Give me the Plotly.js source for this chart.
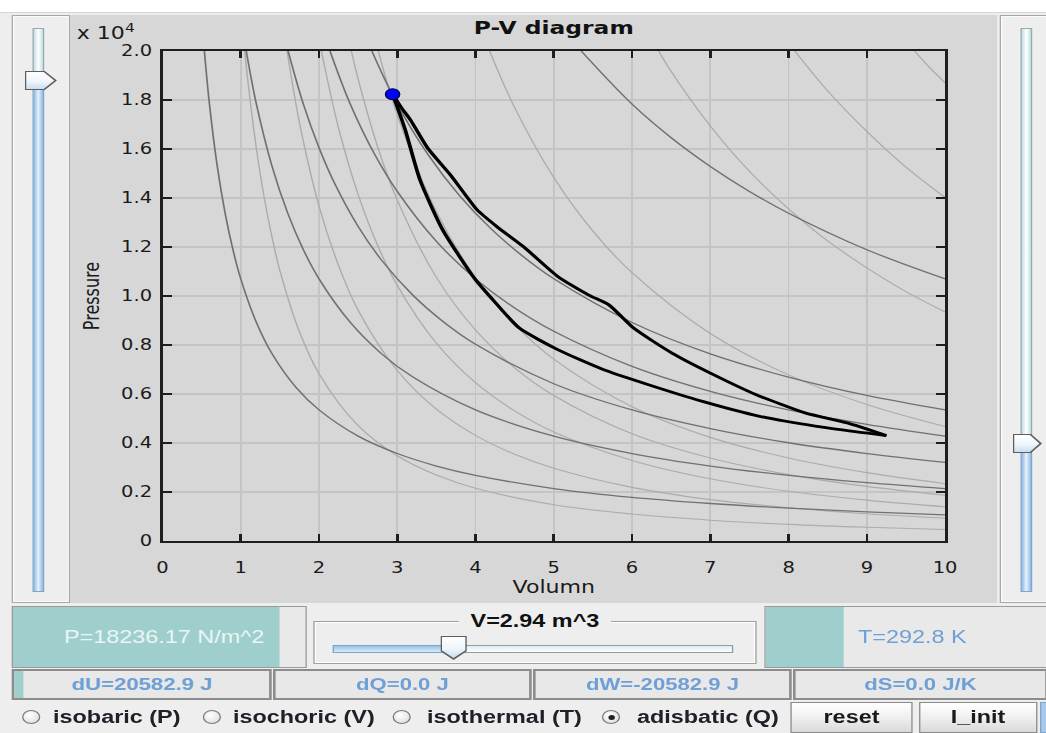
<!DOCTYPE html>
<html><head><meta charset="utf-8">
<script src="https://cdn.plot.ly/plotly-3.0.1.min.js"></script>
<style>
html,body{margin:0;padding:0;width:1046px;height:733px;overflow:hidden;background:#eeeeee;font-family:"Liberation Sans",Arial,sans-serif;}
#wrap{position:absolute;left:0;top:0;width:805px;height:733px;transform:scaleX(1.3);transform-origin:0 0;}
.abs{position:absolute;box-sizing:border-box;}
.panel{background:#eeeeee;border:1px solid #a8a8a8;box-shadow:inset 0 0 0 1px #fafafa;}
.trackUp{background:linear-gradient(to right,#bfe0e6,#ffffff 50%,#bfe0e6);border:1px solid #9aa8ae;}
.trackDn{background:linear-gradient(to right,#8fb8e2,#e6f2fb 50%,#8fb8e2);border:1px solid #7aa6cf;}
.thumbR{background:#5e5e5e;clip-path:polygon(0 0,62% 0,100% 50%,62% 100%,0 100%);}
.thumbR .in{position:absolute;left:1px;top:1px;right:2px;bottom:1px;background:linear-gradient(to bottom,#ffffff,#eef6fc 55%,#c8def1);clip-path:polygon(0 0,62% 0,100% 50%,62% 100%,0 100%);}
.thumbD{background:#5e5e5e;clip-path:polygon(0 0,100% 0,100% 62%,50% 100%,0 62%);}
.thumbD .in{position:absolute;left:1px;top:1px;right:1px;bottom:2px;background:linear-gradient(to bottom,#ffffff,#eef6fc 55%,#c8def1);clip-path:polygon(0 0,100% 0,100% 62%,50% 100%,0 62%);}
.val{color:#6e9fd6;font-size:17px;font-weight:bold;display:flex;align-items:center;justify-content:center;background:#e8e8e8;border:2px solid #8c8c8c;}
.radio{width:14px;height:14px;border-radius:50%;border:1px solid #7a7a7a;background:radial-gradient(circle at 40% 35%,#ffffff,#d8d8d8);}
.rlab{font-size:18px;font-weight:bold;color:#20202a;line-height:32px;white-space:nowrap;}
.btn{border:1px solid #8a8a8a;background:linear-gradient(to bottom,#ffffff,#f0f0f0 50%,#d9d9d9);font-size:18px;font-weight:bold;color:#1a1a1a;display:flex;align-items:center;justify-content:center;}
</style></head>
<body>
<div id="wrap">
  <div class="abs" style="left:0;top:0;width:805px;height:13px;background:#ffffff;border-bottom:1px solid #d6d6d6;"></div>

  <!-- left slider -->
  <div class="abs panel" style="left:9.2px;top:15px;width:44.6px;height:588px;"></div>
  <div class="abs trackUp" style="left:25.4px;top:28px;width:8.5px;height:54px;"></div>
  <div class="abs trackDn" style="left:25.4px;top:82px;width:8.5px;height:510px;"></div>
  <div class="abs thumbR" style="left:19.2px;top:71px;width:24.6px;height:19px;"><div class="in"></div></div>

  <!-- chart -->
  <div id="chart" class="abs" style="left:54px;top:15px;width:713px;height:588px;"></div>

  <!-- right slider -->
  <div class="abs panel" style="left:768.5px;top:15px;width:45px;height:588px;"></div>
  <div class="abs trackUp" style="left:785.4px;top:28px;width:8.5px;height:417px;"></div>
  <div class="abs trackDn" style="left:785.4px;top:445px;width:8.5px;height:147px;"></div>
  <div class="abs thumbR" style="left:779.2px;top:434px;width:22.4px;height:19px;"><div class="in"></div></div>

  <!-- row 1 -->
  <div class="abs" style="left:9.2px;top:606px;width:227px;height:62px;background:#e9e9e9;border:1px solid #9a9a9a;"></div>
  <div class="abs" style="left:10.2px;top:607px;width:205px;height:60px;background:#9ecfcd;"></div>
  <div class="abs" id="ptext" style="left:49.2px;top:607px;height:60px;line-height:60px;font-size:18px;color:#eaf5f5;white-space:nowrap;"></div>

  <div class="abs" style="left:236.9px;top:606px;width:347.7px;height:62px;background:#eeeeee;"></div>
  <div class="abs" style="left:240.8px;top:621px;width:341.5px;height:43px;border:1px solid #a0a0a0;box-shadow:inset 0 0 0 1px #ffffff;"></div>
  <div class="abs" id="vtitle" style="left:353px;top:610px;width:117px;height:22px;line-height:22px;font-size:18px;font-weight:bold;color:#111;text-align:center;background:#eeeeee;white-space:nowrap;"></div>
  <div class="abs" style="left:256.2px;top:645px;width:307.7px;height:8px;background:linear-gradient(to bottom,#d9eef2,#ffffff);border:1px solid #8f9da3;"></div>
  <div class="abs" style="left:256.2px;top:645px;width:92.3px;height:8px;background:linear-gradient(to bottom,#9cc2e8,#d8ebf8);border:1px solid #7aa6cf;"></div>
  <div class="abs thumbD" style="left:338.5px;top:636px;width:20.8px;height:24px;"><div class="in"></div></div>

  <div class="abs" style="left:587.7px;top:606px;width:218px;height:62px;background:#e9e9e9;border:1px solid #9a9a9a;"></div>
  <div class="abs" style="left:588.7px;top:607px;width:60px;height:60px;background:#9ecfcd;"></div>
  <div class="abs" id="ttext" style="left:660px;top:607px;height:60px;line-height:60px;font-size:18px;color:#6e9fd6;white-space:nowrap;"></div>

  <!-- row 2 -->
  <div class="abs val" id="du" style="left:9.2px;top:669px;width:200px;height:31px;"></div>
  <div class="abs" style="left:11.2px;top:671px;width:7px;height:27px;background:#9ecfcd;"></div>
  <div class="abs val" id="dq" style="left:210px;top:669px;width:199.2px;height:31px;"></div>
  <div class="abs val" id="dw" style="left:410px;top:669px;width:199.2px;height:31px;"></div>
  <div class="abs val" id="ds" style="left:610px;top:669px;width:196px;height:31px;"></div>

  <!-- row 3 -->
  <div class="abs radio" style="left:17.2px;top:710px;"></div>
  <div class="abs rlab" style="left:40.8px;top:701px;">isobaric (P)</div>
  <div class="abs radio" style="left:155.7px;top:710px;"></div>
  <div class="abs rlab" style="left:179.2px;top:701px;">isochoric (V)</div>
  <div class="abs radio" style="left:301.8px;top:710px;"></div>
  <div class="abs rlab" style="left:328.5px;top:701px;">isothermal (T)</div>
  <div class="abs radio" style="left:463.3px;top:710px;"><div style="position:absolute;left:3.5px;top:3.5px;width:5px;height:5px;border-radius:50%;background:#222;"></div></div>
  <div class="abs rlab" style="left:490px;top:701px;">adisbatic (Q)</div>
  <div class="abs btn" style="left:607.7px;top:702px;width:94.6px;height:31px;">reset</div>
  <div class="abs btn" style="left:706.9px;top:702px;width:90.8px;height:31px;">I_init</div>
  <div class="abs" style="left:800px;top:702px;width:6px;height:31px;background:#a9c9e8;border:1px solid #7aa6cf;"></div>
</div>

<script>
// ---- readouts ----
const pressureNow = 18236.17;   // N/m^2
const volumeNow = 2.94;         // m^3
const tempNow = 292.8;          // K
const dU = 20582.9, dQ = 0.0, dW = -20582.9, dS = 0.0;

// ---- axis ticks ----
const xTickVals = [0,1,2,3,4,5,6,7,8,9,10];
const xTickText = ['0','1','2','3','4','5','6','7','8','9','10'];
const yTickVals = [0,0.2,0.4,0.6,0.8,1.0,1.2,1.4,1.6,1.8,2.0];
const yTickText = ['0','0.2','0.4','0.6','0.8','1.0','1.2','1.4','1.6','1.8','2.0'];

// ---- isotherms (dark gray), pressure in units of 1e4 ----
const isoV1 = [0.535,0.6,0.7,0.8,0.9,1.0,1.2,1.4,1.7,2,2.5,3,3.5,4,5,6,7,8,9,10];
const isoP1 = [2.0,1.783,1.529,1.338,1.189,1.07,0.892,0.764,0.629,0.535,0.428,0.357,0.306,0.268,0.214,0.178,0.153,0.134,0.119,0.107];
const isoV2 = [1.07,1.2,1.4,1.6,1.8,2,2.4,2.8,3.2,4,5,6,7,8,9,10];
const isoP2 = [2.0,1.783,1.529,1.338,1.189,1.07,0.892,0.764,0.669,0.535,0.428,0.357,0.306,0.268,0.238,0.214];
const isoV3 = [1.605,1.8,2,2.2,2.5,2.8,3.2,3.6,4,5,6,7,8,9,10];
const isoP3 = [2.0,1.783,1.605,1.459,1.284,1.146,1.003,0.892,0.803,0.642,0.535,0.459,0.401,0.357,0.321];
const isoV4 = [2.14,2.4,2.7,3,3.5,4,4.5,5,6,7,8,9,10];
const isoP4 = [2.0,1.783,1.585,1.427,1.223,1.07,0.951,0.856,0.713,0.611,0.535,0.476,0.428];
const isoV5 = [2.675,3,3.4,3.8,4.2,4.6,5,6,7,8,9,10];
const isoP5 = [2.0,1.783,1.574,1.408,1.274,1.163,1.07,0.892,0.764,0.669,0.594,0.535];
const isoV6 = [5.35,6,6.5,7,7.5,8,9,10];
const isoP6 = [2.0,1.783,1.646,1.529,1.427,1.338,1.189,1.07];

// ---- adiabats (light gray) ----
const adiV1 = [1.05,1.1,1.2,1.3,1.4,1.5,1.75,2,2.5,3,3.5,4,5,6,7,8,9,10];
const adiP1 = [2.0,1.852,1.601,1.401,1.239,1.104,0.854,0.683,0.471,0.348,0.269,0.215,0.148,0.110,0.085,0.068,0.056,0.047];
const adiV2 = [1.592,1.75,2,2.25,2.5,3,3.5,4,4.5,5,6,7,8,9,10];
const adiP2 = [2.0,1.708,1.367,1.124,0.942,0.696,0.538,0.431,0.354,0.297,0.219,0.169,0.136,0.111,0.093];
const adiV3 = [2.03,2.25,2.5,2.75,3,3.5,4,4.5,5,6,7,8,9,10];
const adiP3 = [2.0,1.685,1.414,1.206,1.043,0.807,0.646,0.531,0.445,0.329,0.254,0.203,0.167,0.140];
const adiV4 = [2.413,2.5,2.75,3,3.5,4,4.5,5,6,7,8,9,10];
const adiP4 = [2.0,1.885,1.608,1.391,1.076,0.861,0.707,0.594,0.438,0.339,0.271,0.223,0.187];
const adiV5 = [2.758,3,3.5,4,4.5,5,6,7,8,9,10];
const adiP5 = [2.0,1.739,1.344,1.076,0.884,0.742,0.548,0.423,0.339,0.279,0.234];
const adiV6 = [4.18,4.5,5,5.5,6,7,8,9,10];
const adiP6 = [2.0,1.769,1.484,1.265,1.095,0.847,0.678,0.557,0.467];
const adiV7 = [6.34,6.5,7,7.5,8,8.5,9,9.5,10];
const adiP7 = [2.0,1.916,1.694,1.509,1.356,1.225,1.115,1.018,0.935];
const adiV8 = [8.08,8.5,9,9.5,10];
const adiP8 = [2.0,1.837,1.672,1.526,1.402];
const adiV9 = [9.61,9.8,10];
const adiP9 = [2.0,1.933,1.870];

// ---- process path (black) ----
const pathUpV = [2.94,3.05,3.17,3.39,3.68,4.02,4.27,4.61,5.05,5.44,5.70,6.02,6.51,7.04,7.58,8.21,8.75,9.25];
const pathUpP = [1.824,1.77,1.718,1.603,1.494,1.352,1.284,1.202,1.08,1.005,0.965,0.869,0.767,0.679,0.598,0.523,0.482,0.430];
const pathLoV = [2.94,3.1,3.29,3.58,4.0,4.22,4.56,5.05,5.63,6.21,6.90,7.63,8.36,8.99,9.25];
const pathLoP = [1.824,1.68,1.474,1.27,1.066,0.985,0.869,0.781,0.700,0.638,0.570,0.509,0.468,0.441,0.430];

// readout texts
document.getElementById('ptext').textContent = 'P=' + pressureNow.toFixed(2) + ' N/m^2';
document.getElementById('vtitle').textContent = 'V=' + volumeNow.toFixed(2) + ' m^3';
document.getElementById('ttext').textContent = 'T=' + tempNow.toFixed(1) + ' K';
document.getElementById('du').textContent = 'dU=' + dU.toFixed(1) + ' J';
document.getElementById('dq').textContent = 'dQ=' + dQ.toFixed(1) + ' J';
document.getElementById('dw').textContent = 'dW=' + dW.toFixed(1) + ' J';
document.getElementById('ds').textContent = 'dS=' + dS.toFixed(1) + ' J/K';

const traces = [];
const adi = [[adiV1,adiP1],[adiV2,adiP2],[adiV3,adiP3],[adiV4,adiP4],[adiV5,adiP5],[adiV6,adiP6],[adiV7,adiP7],[adiV8,adiP8],[adiV9,adiP9]];
adi.forEach(function(c){
  traces.push({x:c[0], y:c[1], mode:'lines', type:'scatter', line:{color:'#acacac', width:1.1, shape:'spline'}, hoverinfo:'skip'});
});
const iso = [[isoV1,isoP1],[isoV2,isoP2],[isoV3,isoP3],[isoV4,isoP4],[isoV5,isoP5],[isoV6,isoP6]];
iso.forEach(function(c){
  traces.push({x:c[0], y:c[1], mode:'lines', type:'scatter', line:{color:'#717171', width:1.3, shape:'spline'}, hoverinfo:'skip'});
});
traces.push({x:pathUpV, y:pathUpP, mode:'lines', type:'scatter', line:{color:'#000000', width:2.8, shape:'spline', smoothing:0.6}});
traces.push({x:pathLoV, y:pathLoP, mode:'lines', type:'scatter', line:{color:'#000000', width:2.8, shape:'spline', smoothing:0.6}});
traces.push({x:[volumeNow], y:[pressureNow/1e4], mode:'markers', type:'scatter', marker:{color:'#0000ff', size:11, line:{color:'#00004a', width:1}}, cliponaxis:false});

const axisCommon = {
  showgrid:true, gridcolor:'#c4c4c4', gridwidth:1.3, zeroline:false,
  showline:true, linecolor:'#1e1e1e', linewidth:2, mirror:'ticks',
  ticks:'inside', ticklen:7, tickwidth:2, tickcolor:'#1e1e1e',
  automargin:false, tickfont:{family:'DejaVu Sans', size:15, color:'#1a1a1a'}
};

const layout = {
  width:713, height:588,
  margin:{l:71, r:40, t:36, b:62},
  paper_bgcolor:'#d7d7d7', plot_bgcolor:'#d7d7d7',
  font:{family:'DejaVu Sans', size:15, color:'#1a1a1a'},
  showlegend:false, hovermode:false,
  title:{text:'<b>P-V diagram</b>', font:{family:'DejaVu Sans', size:18, color:'#111111'}, x:0.5, xref:'paper', xanchor:'center', y:1-13/588, yref:'container', yanchor:'middle'},
  xaxis:Object.assign({}, axisCommon, {range:[0,10], tickmode:'array', tickvals:xTickVals, ticktext:xTickText, ticklabelstandoff:12,
    title:{text:'Volumn', font:{family:'DejaVu Sans', size:17, color:'#1a1a1a'}, standoff:2}}),
  yaxis:Object.assign({}, axisCommon, {range:[0,2], tickmode:'array', tickvals:yTickVals, ticktext:yTickText, ticklabelstandoff:3,
    title:{text:'Pressure', font:{family:'DejaVu Sans', size:16, color:'#1a1a1a'}, standoff:12}}),
  annotations:[{text:'x 10<sup>4</sup>', xref:'paper', yref:'paper', x:-0.113, y:1.038, xanchor:'left', yanchor:'middle', showarrow:false, font:{family:'DejaVu Sans', size:17, color:'#1a1a1a'}}]
};

Plotly.newPlot('chart', traces, layout, {staticPlot:true, displayModeBar:false});
</script>
</body></html>
